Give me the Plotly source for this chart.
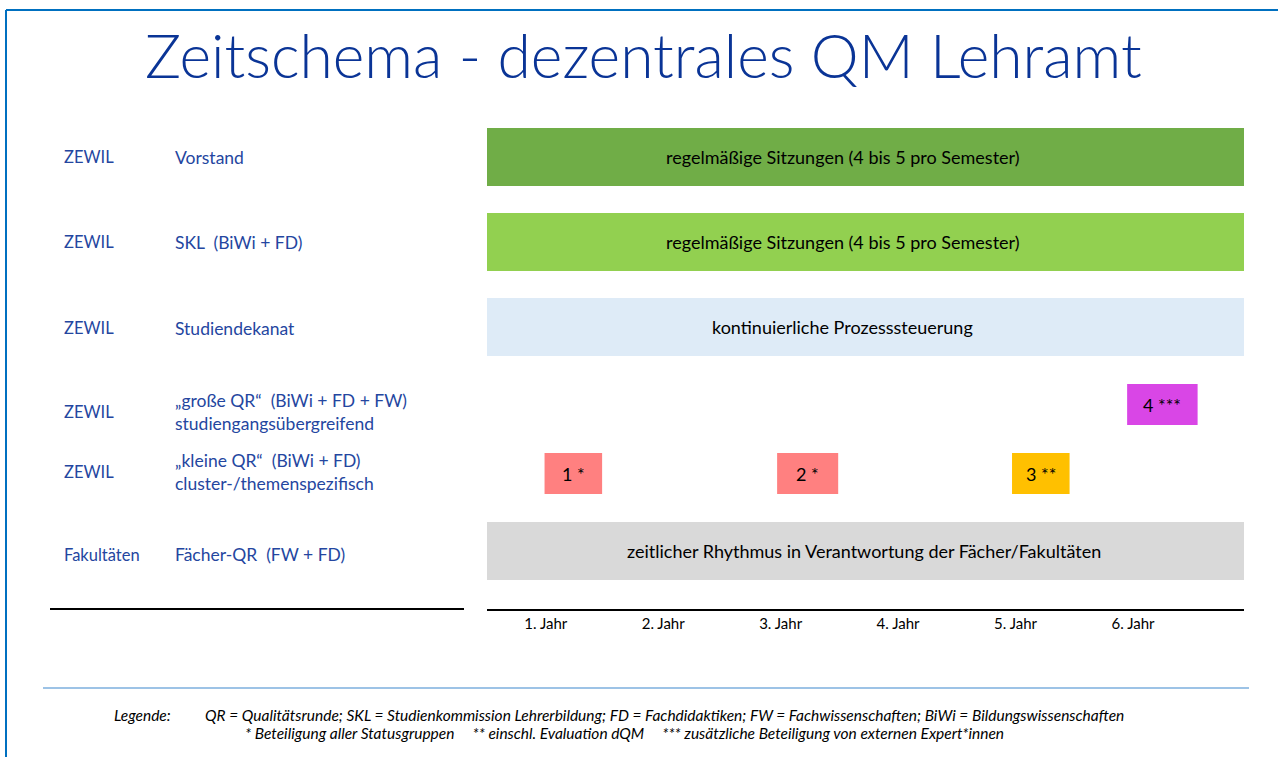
import plotly.graph_objects as go

# ---- data ----
row_org = ["ZEWIL", "ZEWIL", "ZEWIL", "ZEWIL", "ZEWIL", "Fakultäten"]
row_name = ["Vorstand", "SKL  (BiWi + FD)", "Studiendekanat",
            "„große QR“  (BiWi + FD + FW)<br>studiengangsübergreifend",
            "„kleine QR“  (BiWi + FD)<br>cluster-/themenspezifisch",
            "Fächer-QR  (FW + FD)"]

bar_text = ["regelmäßige Sitzungen (4 bis 5 pro Semester)",
            "regelmäßige Sitzungen (4 bis 5 pro Semester)",
            "kontinuierliche Prozesssteuerung",
            "4 ***", "1 *", "2 *", "3 **",
            "zeitlicher Rhythmus in Verantwortung der Fächer/Fakultäten"]
bar_row = [0, 1, 2, 3, 4, 4, 4, 5]
bar_start = [0.5, 0.5, 0.5, 5.95, 0.99, 2.97, 4.97, 0.5]
bar_end = [6.945, 6.945, 6.945, 6.55, 1.48, 3.49, 5.46, 6.945]

year_vals = [1, 2, 3, 4, 5, 6]
year_text = ["1. Jahr", "2. Jahr", "3. Jahr", "4. Jahr", "5. Jahr", "6. Jahr"]

legend_line1 = ("QR = Qualitätsrunde; SKL = Studienkommission Lehrerbildung; FD = Fachdidaktiken; "
                "FW = Fachwissenschaften; BiWi = Bildungswissenschaften")
legend_line2 = ("* Beteiligung aller Statusgruppen     ** einschl. Evaluation dQM     "
                "*** zusätzliche Beteiligung von externen Expert*innen")

# ---- layout / style ----
W, H = 1278, 757
row_pos = [0, 1, 2, 2.912, 3.724, 4.635]      # row centres (row units)
row_height = [0.682, 0.682, 0.682, 0.482, 0.482, 0.682]
label_dy = [0, 0, 1, 7.5, -1.5, 4]            # px offset of left labels
text_dx = [-23, -23, -23, 0, 0, 0, 0, -2]     # px offset of bar texts
bar_colors = ["#70AD47", "#92D050", "#DEEBF7", "#D946E6",
              "#FF8080", "#FF8080", "#FFC000", "#D9D9D9"]
label_color = "#2446A0"
FONT = "Lato"

fig = go.Figure()
for i in range(len(bar_text)):
    r = bar_row[i]
    fig.add_trace(go.Bar(
        orientation="h",
        y=[row_pos[r]],
        base=[bar_start[i]],
        x=[bar_end[i] - bar_start[i]],
        width=[row_height[r]],
        marker=dict(color=bar_colors[i], line=dict(width=0)),
        hoverinfo="skip",
        showlegend=False,
    ))
    fig.add_annotation(x=(bar_start[i] + bar_end[i]) / 2, y=row_pos[r], xref="x", yref="y",
                       text=bar_text[i], showarrow=False, xanchor="center", yanchor="middle",
                       xshift=text_dx[i],
                       font=dict(family=FONT, size=18, color="black"))

# row labels
px_top = 110
unit = 85
def y_paper(px):
    return 1 - px / H

for r in range(len(row_org)):
    cy = px_top + (row_pos[r] + 0.553) * unit + label_dy[r]
    fig.add_annotation(x=62 / W, y=y_paper(cy), xref="paper", yref="paper",
                       text=row_org[r], showarrow=False, xanchor="left", yanchor="middle",
                       font=dict(family=FONT, size=16.5, color=label_color))
    fig.add_annotation(x=173 / W, y=y_paper(cy), xref="paper", yref="paper",
                       text=row_name[r], showarrow=False, xanchor="left", yanchor="middle",
                       align="left",
                       font=dict(family=FONT, size=17.5, color=label_color))

# title
fig.add_annotation(x=644 / W, y=y_paper(55), xref="paper", yref="paper",
                   text="Zeitschema - dezentrales QM Lehramt", showarrow=False,
                   xanchor="center", yanchor="middle",
                   font=dict(family=FONT, size=60.5, color="#0A3496", weight=300))

# legend text
LEG = 15.5
fig.add_annotation(x=112 / W, y=y_paper(715), xref="paper", yref="paper",
                   text="<i>Legende:</i>", showarrow=False, xanchor="left", yanchor="middle",
                   font=dict(family=FONT, size=LEG, color="black"))
fig.add_annotation(x=203 / W, y=y_paper(715), xref="paper", yref="paper",
                   text="<i>" + legend_line1 + "</i>", showarrow=False, xanchor="left",
                   yanchor="middle", font=dict(family=FONT, size=LEG, color="black"))
fig.add_annotation(x=243 / W, y=y_paper(733), xref="paper", yref="paper",
                   text="<i>" + legend_line2.replace("  ", "&nbsp; ") + "</i>", showarrow=False,
                   xanchor="left", yanchor="middle",
                   font=dict(family=FONT, size=LEG, color="black"))

# lines / frame
fig.add_shape(type="line", xref="paper", yref="paper", x0=50 / W, x1=464 / W,
              y0=y_paper(609), y1=y_paper(609), line=dict(color="black", width=2))
fig.add_shape(type="line", xref="paper", yref="paper", x0=43 / W, x1=1249 / W,
              y0=y_paper(688), y1=y_paper(688), line=dict(color="#9DC3E6", width=2))
fig.add_shape(type="line", xref="paper", yref="paper", x0=6 / W, x1=1,
              y0=y_paper(10), y1=y_paper(10), line=dict(color="#0070C0", width=2))
fig.add_shape(type="line", xref="paper", yref="paper", x0=6 / W, x1=6 / W,
              y0=y_paper(10), y1=0, line=dict(color="#0070C0", width=2))

fig.update_layout(
    width=W, height=H,
    margin=dict(l=0, r=0, t=0, b=0),
    paper_bgcolor="white", plot_bgcolor="white",
    barmode="overlay",
    font=dict(family=FONT),
    xaxis=dict(domain=[487 / W, 1244 / W], range=[0.5, 6.945],
               showgrid=False, zeroline=False, showline=True, linecolor="black",
               linewidth=2, ticks="", tickvals=year_vals, ticktext=year_text,
               tickfont=dict(family=FONT, size=15, color="black"),
               ticklabelstandoff=0, fixedrange=True),
    yaxis=dict(domain=[1 - 609 / H, 1 - px_top / H], range=[5.318, -0.553],
               showgrid=False, zeroline=False, showline=False, showticklabels=False,
               ticks="", fixedrange=True),
)

fig.write_html(
    "out.html",
    config={"displayModeBar": False},
    post_script="document.body.style.margin='0';document.body.style.overflow='hidden';",
)
